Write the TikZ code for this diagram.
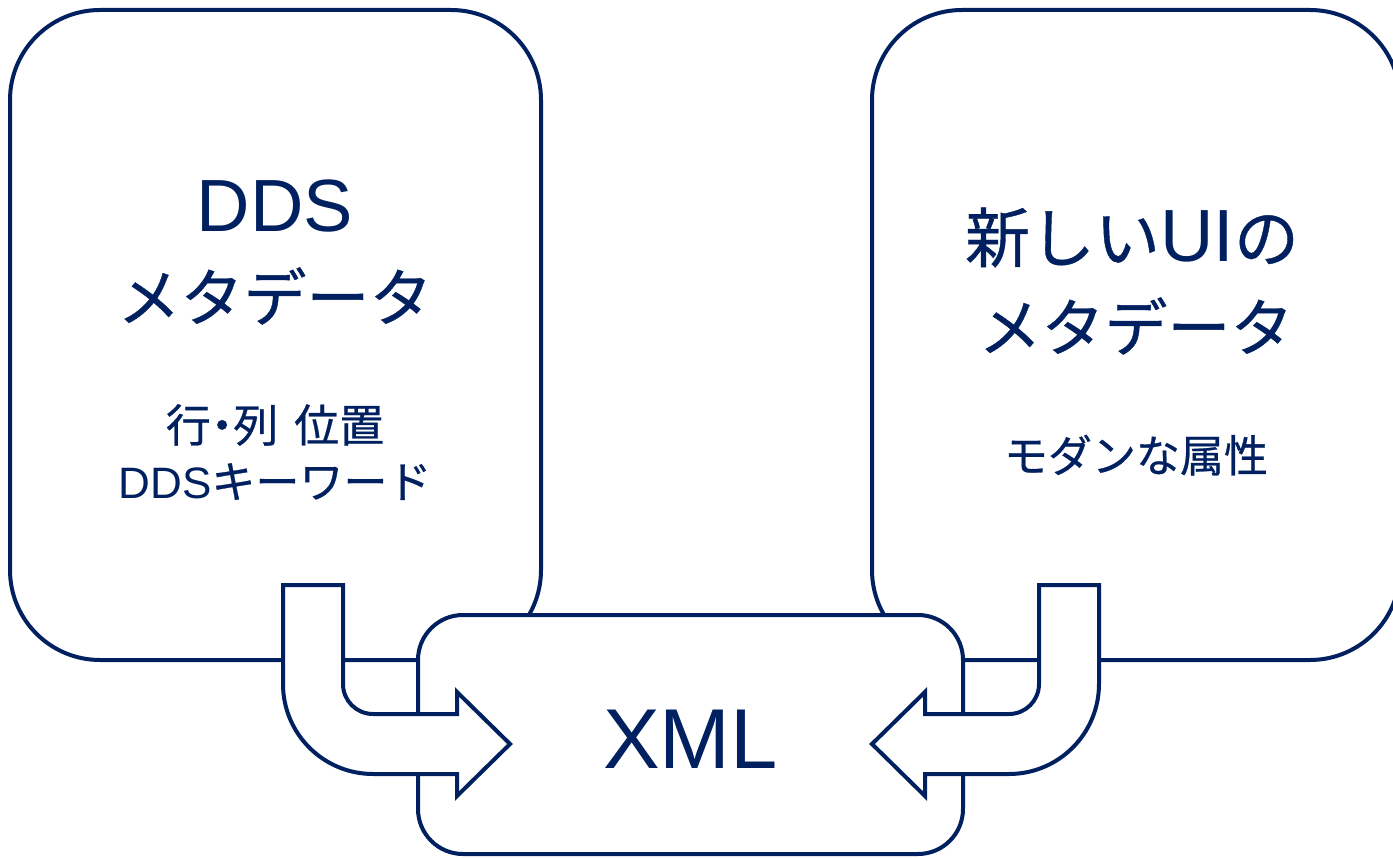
\documentclass[tikz,border=0pt]{standalone}
\usepackage{fontspec}
\setmainfont{Liberation Sans}
\newfontfamily\jp[FakeBold=0.6]{Noto Sans CJK JP}
\definecolor{navy}{RGB}{0,32,96}
\begin{document}
\begin{tikzpicture}[x=1pt,y=-1pt,
  bigbox/.style={draw=navy,line width=4pt,fill=white,rounded corners=90pt},
  xmlbox/.style={draw=navy,line width=4pt,fill=white,rounded corners=45pt},
  bentarrow/.style={draw=navy,line width=4pt,fill=white,line join=miter},
  txt/.style={text=navy,inner sep=0pt,anchor=base}]
\clip (0,0) rectangle (1393,858);
% boxes
\draw[bigbox] (10,10) rectangle (541,660);
\draw[bigbox] (872,10) rectangle (1400,660);
\draw[xmlbox] (418,615) rectangle (963,854);
% left bent arrow
\draw[bentarrow] (283,585) -- (343,585) -- (343,684)
  .. controls (343,700.6) and (356.4,714) .. (373,714)
  -- (457,714) -- (457,692) -- (510,744) -- (457,796) -- (457,774) -- (373,774)
  .. controls (323.3,774) and (283,733.7) .. (283,684) -- cycle;
% right bent arrow
\draw[bentarrow] (1099,585) -- (1039,585) -- (1039,684)
  .. controls (1039,700.6) and (1025.6,714) .. (1009,714)
  -- (925,714) -- (925,692) -- (872,744) -- (925,796) -- (925,774) -- (1009,774)
  .. controls (1058.7,774) and (1099,733.7) .. (1099,684) -- cycle;
% texts
\node[txt] (dds) at (275,232) {\fontsize{74}{80}\selectfont DDS};
\node[txt] (metaL) at (275,321) {\jp\fontsize{63}{70}\selectfont メタデータ};
\node[txt] (pos) at (275,442) {\jp\fontsize{45}{50}\selectfont 行\hspace{-0.25em}・\hspace{-0.25em}列\hspace{0.35em}位置};
\node[txt] (kw) at (275,498) {\fontsize{44}{48}\selectfont DDS{\jp キーワード}};
\node[txt] (newui) at (1132,262) {\fontsize{74}{80}\selectfont{\jp\fontsize{65}{70}\selectfont 新しい}UI{\jp\fontsize{65}{70}\selectfont の}};
\node[txt] (metaR) at (1136,351) {\jp\fontsize{63}{70}\selectfont メタデータ};
\node[txt] (modern) at (1136,472) {\jp\fontsize{44}{50}\selectfont モダンな属性};
\node[txt] (xml) at (690.5,768) {\fontsize{85}{90}\selectfont XML};
\end{tikzpicture}
\end{document}
